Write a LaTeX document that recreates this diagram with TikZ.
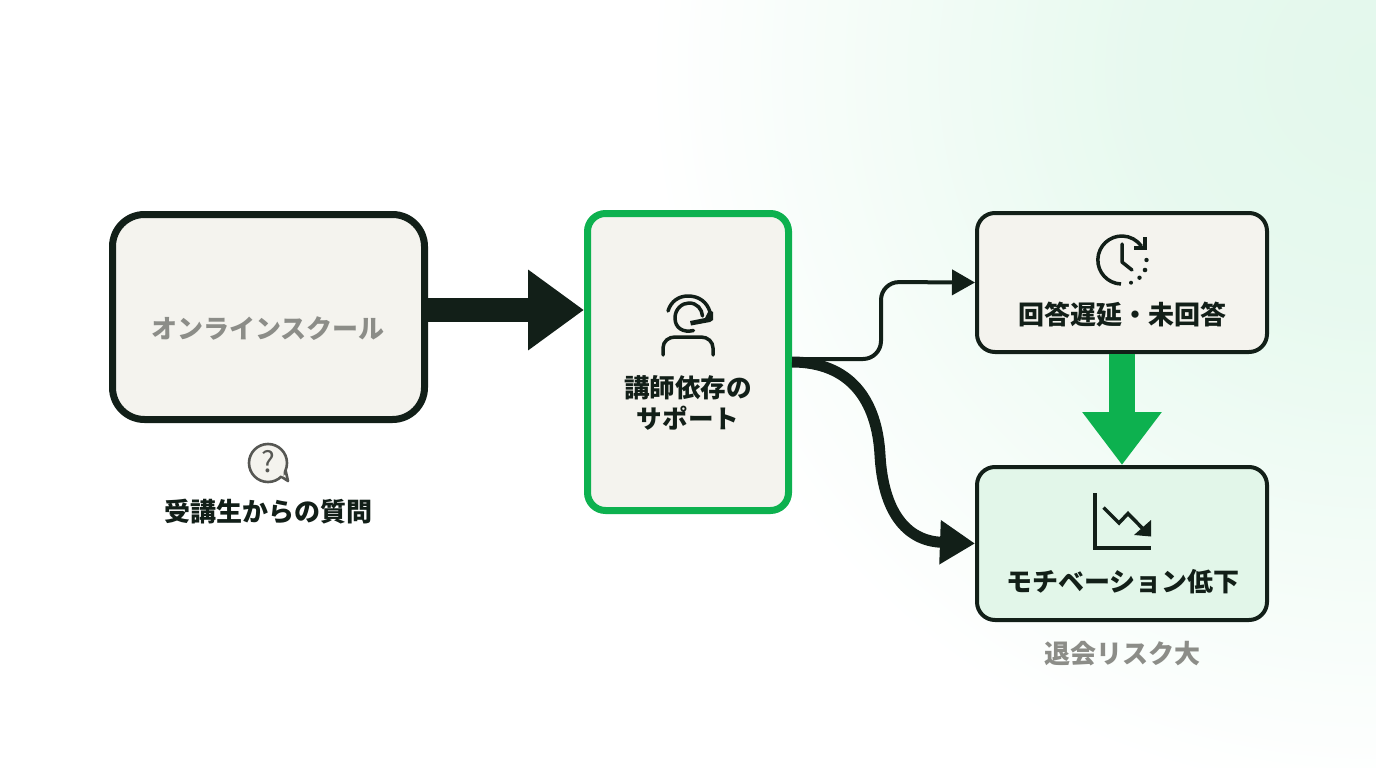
\documentclass[tikz,border=0pt]{standalone}
\usepackage{fontspec}
\setmainfont{Noto Sans CJK JP}
\usetikzlibrary{arrows.meta,calc}
\definecolor{ink}{HTML}{121F18}
\definecolor{paper}{HTML}{F4F3EE}
\definecolor{brandgreen}{HTML}{0DB14F}
\definecolor{mint}{HTML}{E2F6E9}
\definecolor{glow}{HTML}{E3F8EC}
\definecolor{mutetext}{HTML}{8C8D88}
\definecolor{icongrey}{HTML}{565753}
\pgfdeclareradialshading{bgglow}{\pgfpoint{0bp}{0bp}}{
 color(0bp)=(glow);
 color(8bp)=(glow!85!white);
 color(16bp)=(glow!45!white);
 color(25bp)=(white);
 color(50bp)=(white)}
\tikzset{
 x=1pt,y=-1pt,
 boxbase/.style={draw=ink,fill=paper,rounded corners=#1,inner sep=0pt,outer sep=0pt},
 boxlabel/.style={font=\bfseries\fontsize{26}{33}\selectfont,text=ink,align=center,inner sep=0pt},
 mutelabel/.style={font=\bfseries\fontsize{26}{33}\selectfont,text=mutetext,inner sep=0pt},
 icon/.style={draw=ink,line width=3.5pt,line cap=round,line join=round},
}
\begin{document}
\begin{tikzpicture}
\useasboundingbox (0,0) rectangle (1376,768);
\fill[white] (0,0) rectangle (1376,768);
\begin{scope}
 \clip (0,0) rectangle (1376,768);
 \shade[shading=bgglow] (1376,70) circle [radius=730pt];
\end{scope}

% boxes
\node[boxbase=32pt,line width=7pt,minimum width=312pt,minimum height=205pt,outer sep=3.5pt] (school) at (268.5,317) {};
\node[boxbase=18pt,draw=brandgreen,line width=7pt,minimum width=201pt,minimum height=297pt,outer sep=3.5pt] (support) at (688,362) {};
\node[boxbase=18pt,line width=4pt,minimum width=290pt,minimum height=139pt,outer sep=2pt] (delay) at (1122,282.5) {};
\node[boxbase=18pt,fill=mint,line width=4pt,minimum width=290pt,minimum height=153pt,outer sep=2pt] (drop) at (1122,543.5) {};

% labels
\node[mutelabel] (schooltext) at (268,329) {オンラインスクール};
\node[boxlabel] (questiontext) at (268.5,512) {受講生からの質問};
\node[boxlabel,font=\bfseries\fontsize{25.6}{31}\selectfont] (supporttext) at (688,403) {講師依存の\\サポート};
\node[boxlabel] (delaytext) at (1122,315) {回答遅延・未回答};
\node[boxlabel] (droptext) at (1123,582) {モチベーション低下};
\node[mutelabel] (risktext) at (1122,654) {退会リスク大};

% connectors
\draw[ink,line width=24pt,-{Triangle[length=56pt,width=77pt]}] (school.east |- 0,310) coordinate (a1) -- (support.west |- a1);
\draw[ink,line width=4pt,rounded corners=18pt,-{Triangle[length=23pt,width=25pt]}]
  ($(support.east)+(0,-3)$) -| (881,282) -- (delay.west);
\draw[ink,line width=11pt,-{Triangle[length=35pt,width=42pt]}]
  (support.east) .. controls (850,362) and (877,400) .. (880,455)
  .. controls (883,510) and (905,541) .. (drop.west);
\draw[brandgreen,line width=26pt,-{Triangle[length=53pt,width=76pt]}] (delay.south) -- (drop.north);

% question icon
\draw[icongrey,fill=paper,line width=2.6pt,line join=round] (281,476.5) -- (288,481) -- (285.5,470);
\draw[icongrey,fill=paper,line width=2.6pt] (268,463) circle [radius=19pt];
\fill[paper] (277,474) -- (283.5,476.5) -- (283.5,470) -- cycle;
\node[font=\fontsize{29}{29}\selectfont,text=icongrey,inner sep=0pt] (qmark) at (268,461.5) {?};

% headset icon
\draw[icon] (693.5,330.5) .. controls (683,333) and (675,328) .. (675,318)
  .. controls (675,309) and (682,303) .. (689,303)
  .. controls (697,303) and (702,309) .. (702.5,316);
\draw[icon] (668,311) .. controls (671,301) and (679,296) .. (688,296)
  .. controls (699,296) and (707,302) .. (710,312);
\fill[ink] (709,310) -- (713,312) -- (713,320) -- (710,322) -- (691,325.5) -- (690,321) -- (705,318) -- cycle;
\draw[icon] (663,355) -- (663,348) .. controls (663,341) and (669,337) .. (675,337)
  -- (701,337) .. controls (708,337) and (713,342) .. (713,348) -- (713,355);

% clock icon
\draw[icon,line cap=butt] (1121,284) arc [start angle=268,end angle=35,radius=24pt];
\draw[icon] (1122,244) -- (1122,262) -- (1132,270);
\draw[icon,line cap=butt,line join=miter] (1145,237) -- (1145,248) -- (1133.5,248);
\foreach \dx/\dy/\r in {1146.5/260/2.2,1145/270/2.3,1139.5/277.7/2.2,1131/282.7/2.0}
  \fill[ink] (\dx,\dy) circle [radius=\r pt];

% chart icon
\draw[icon,line cap=butt,line join=miter] (1095,493) -- (1095,548) -- (1151,548);
\draw[icon,line cap=butt,line join=miter] (1103.5,507.5) -- (1119,523) -- (1128,513.5) -- (1147,533);
\fill[ink] (1151,520) -- (1151,536.5) -- (1134,535) -- cycle;
\end{tikzpicture}
\end{document}
